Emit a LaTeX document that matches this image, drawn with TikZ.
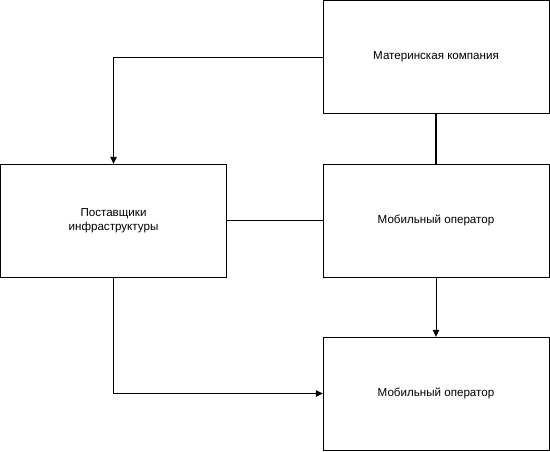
\documentclass[tikz,border=0pt]{standalone}
\usepackage{fontspec}
\setmainfont{Liberation Sans}
\usetikzlibrary{arrows.meta}

\tikzset{
  block/.style={draw, rectangle, minimum width=226pt, minimum height=113pt,
    align=center, font=\fontsize{11.6}{13.5}\selectfont, inner sep=0pt},
  link/.style={line width=0.8pt},
  arrow/.style={link, -{Triangle[length=7pt, width=6.5pt]}}
}

\begin{document}
\begin{tikzpicture}[x=1pt, y=-1pt]
    \useasboundingbox (0, 0) rectangle (550, 451);
    \node[block] (parent) at (436, 57) {Материнская компания};
    \node[block] (supply) at (113.5, 220.5) {Поставщики\\инфраструктуры};
    \node[block] (mobile) at (436, 220.5) {Мобильный оператор};
    \node[block] (mobile2) at (436, 393.5) {Мобильный оператор};
    \draw[arrow] (parent.west) -| (supply.north);
    \draw[line width=2pt] (parent.south) -- (mobile.north);
    \draw[link] (supply.east) -- (mobile.west);
    \draw[arrow] (mobile.south) -- (mobile2.north);
    \draw[arrow] (supply.south) |- (mobile2.west);
  \end{tikzpicture}
\end{document}
